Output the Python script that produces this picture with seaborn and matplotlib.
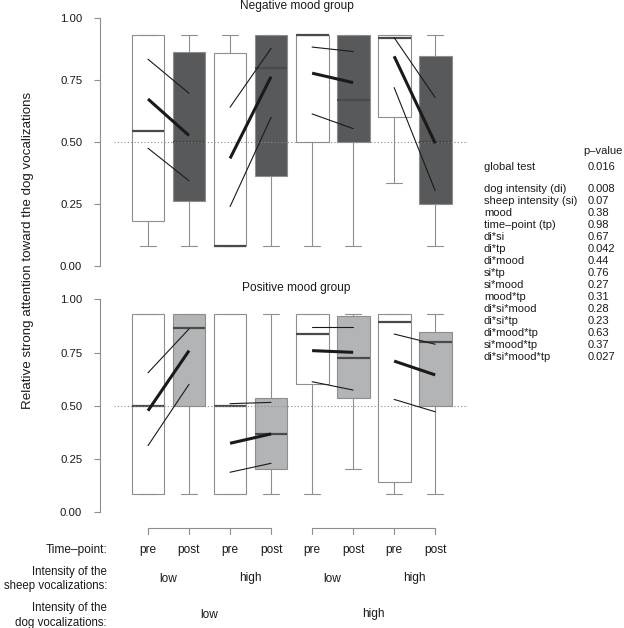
import seaborn as sns
import matplotlib.pyplot as plt
import matplotlib.transforms as mtransforms
import numpy as np
import pandas as pd

# box order: dog low/sheep low (pre, post), dog low/sheep high, dog high/sheep low, dog high/sheep high
time_points = ["pre", "post", "pre", "post", "pre", "post", "pre", "post"]
sheep_levels = ["low", "high", "low", "high"]
dog_levels = ["low", "high"]

# five-number summaries (whisker low, q1, median, q3, whisker high)
neg_lo = [0.083, 0.083, 0.083, 0.083, 0.083, 0.083, 0.335, 0.083]
neg_q1 = [0.185, 0.265, 0.083, 0.365, 0.500, 0.500, 0.600, 0.252]
neg_med = [0.547, 0.500, 0.083, 0.800, 0.933, 0.670, 0.921, 0.500]
neg_q3 = [0.933, 0.865, 0.858, 0.933, 0.933, 0.933, 0.933, 0.846]
neg_hi = [0.933, 0.933, 0.933, 0.933, 0.933, 0.933, 0.933, 0.933]

pos_lo = [0.084, 0.084, 0.084, 0.084, 0.084, 0.202, 0.084, 0.084]
pos_q1 = [0.084, 0.500, 0.084, 0.202, 0.601, 0.535, 0.144, 0.500]
pos_med = [0.500, 0.865, 0.500, 0.366, 0.836, 0.726, 0.895, 0.801]
pos_q3 = [0.932, 0.932, 0.932, 0.538, 0.932, 0.923, 0.932, 0.848]
pos_hi = [0.932, 0.932, 0.932, 0.932, 0.932, 0.932, 0.932, 0.932]

# estimated means (thick) and interval bounds (thin), pre -> post for each pair
neg_mean_pre = [0.674, 0.435, 0.778, 0.846]
neg_mean_post = [0.527, 0.764, 0.740, 0.496]
neg_up_pre = [0.834, 0.641, 0.883, 0.921]
neg_up_post = [0.697, 0.878, 0.865, 0.680]
neg_low_pre = [0.476, 0.241, 0.614, 0.720]
neg_low_post = [0.345, 0.600, 0.555, 0.305]

pos_mean_pre = [0.477, 0.324, 0.759, 0.710]
pos_mean_post = [0.759, 0.368, 0.751, 0.645]
pos_up_pre = [0.655, 0.510, 0.868, 0.837]
pos_up_post = [0.861, 0.516, 0.868, 0.789]
pos_low_pre = [0.313, 0.188, 0.613, 0.530]
pos_low_post = [0.601, 0.230, 0.574, 0.472]

effects = ["global test", "dog intensity (di)", "sheep intensity (si)", "mood",
           "time\u2013point (tp)", "di*si", "di*tp", "di*mood", "si*tp", "si*mood",
           "mood*tp", "di*si*mood", "di*si*tp", "di*mood*tp", "si*mood*tp",
           "di*si*mood*tp"]
p_values = ["0.016", "0.008", "0.07", "0.38", "0.98", "0.67", "0.042", "0.44",
            "0.76", "0.27", "0.31", "0.28", "0.23", "0.63", "0.37", "0.027"]


def make_df(lo, q1, med, q3, hi):
    rows = []
    for i in range(len(lo)):
        for v in (lo[i], q1[i], med[i], q3[i], hi[i]):
            rows.append({"box": i, "value": v})
    return pd.DataFrame(rows)


sns.set_style("white")
plt.rcParams['font.family'] = ['Liberation Sans', 'DejaVu Sans']

W, H = 624, 628
fig = plt.figure(figsize=(W / 100, H / 100), dpi=100)

edge = "#8e8e8e"
txt = "#1a1a1a"


def px_axes(left, top, right, bottom):
    return fig.add_axes([left / W, 1 - bottom / H, (right - left) / W, (bottom - top) / H])


def draw_panel(ax, df, post_color, m_pre, m_post, u_pre, u_post, l_pre, l_post):
    pal = {i: ("white" if time_points[i] == "pre" else post_color) for i in range(8)}
    sns.boxplot(data=df, x="box", y="value", hue="box", palette=pal, legend=False,
                saturation=1, width=0.8, whis=(0, 100), linecolor=edge, linewidth=0.8,
                medianprops=dict(color="#4a4a4a", linewidth=1.6), ax=ax)
    ax.hlines(0.5, -0.83, 7.8, colors="#8a8a8a", linestyles=(0, (1, 2)), linewidth=0.8, zorder=5)
    for k in range(4):
        xs = [2 * k, 2 * k + 1]
        ax.plot(xs, [u_pre[k], u_post[k]], color=txt, lw=0.8, zorder=6)
        ax.plot(xs, [l_pre[k], l_post[k]], color=txt, lw=0.8, zorder=6)
        ax.plot(xs, [m_pre[k], m_post[k]], color=txt, lw=2.2, zorder=7, solid_capstyle="butt")
    ax.set_xlim(-1.17, 7.8)
    ax.set_ylim(0, 1)
    ax.set_xlabel("")
    ax.set_ylabel("")
    ax.set_xticks([])
    ax.set_yticks([0, 0.25, 0.5, 0.75, 1.0])
    ax.set_yticklabels(["0.00", "0.25", "0.50", "0.75", "1.00"])
    for s in ["top", "right", "bottom"]:
        ax.spines[s].set_visible(False)
    ax.spines["left"].set_color(edge)
    ax.spines["left"].set_linewidth(0.8)
    ax.tick_params(axis="y", left=True, length=4.3, width=0.8, color=edge, pad=8.5,
                   labelsize=8.2, labelcolor=txt)
    ax.patch.set_alpha(0)


ax_top = px_axes(100, 18, 468, 266.5)
draw_panel(ax_top, make_df(neg_lo, neg_q1, neg_med, neg_q3, neg_hi), "#58595b",
           neg_mean_pre, neg_mean_post, neg_up_pre, neg_up_post, neg_low_pre, neg_low_post)

ax_bot = px_axes(100, 299.3, 468, 512.3)
draw_panel(ax_bot, make_df(pos_lo, pos_q1, pos_med, pos_q3, pos_hi), "#b3b4b6",
           pos_mean_pre, pos_mean_post, pos_up_pre, pos_up_post, pos_low_pre, pos_low_post)

fig.text(297 / W, 1 - 6 / H, "Negative mood group", ha="center", va="center", fontsize=8.6, color=txt)
fig.text(296 / W, 1 - 288.5 / H, "Positive mood group", ha="center", va="center", fontsize=8.6, color=txt)

fig.text(28 / W, 1 - 250 / H, "Relative strong attention toward the dog vocalizations",
         rotation=90, ha="center", va="center", fontsize=9.6, color=txt)

# bracket axis under the lower panel
trans = mtransforms.blended_transform_factory(ax_bot.transData, fig.transFigure)
y_line = 1 - 527.5 / H
y_tick = 1 - 534 / H
for g in range(2):
    xs = list(range(4 * g, 4 * g + 4))
    ax_bot.plot([xs[0], xs[-1]], [y_line, y_line], color=edge, lw=0.8, transform=trans, clip_on=False)
    for x in xs:
        ax_bot.plot([x, x], [y_line, y_tick], color=edge, lw=0.8, transform=trans, clip_on=False)

lab_size = 8.6
for i, t in enumerate(time_points):
    ax_bot.text(i, 1 - 550 / H, t, transform=trans, ha="center", va="center", fontsize=lab_size, color=txt)
for k, s in enumerate(sheep_levels):
    ax_bot.text(2 * k + 0.5, 1 - 578.5 / H, s, transform=trans, ha="center", va="center",
                fontsize=lab_size, color=txt)
for k, d in enumerate(dog_levels):
    ax_bot.text(4 * k + 1.5, 1 - 614.5 / H, d, transform=trans, ha="center", va="center",
                fontsize=lab_size, color=txt)

fig.text(107 / W, 1 - 550 / H, "Time\u2013point:", ha="right", va="center", fontsize=lab_size, color=txt)
fig.text(107 / W, 1 - 579 / H, "Intensity of the\nsheep vocalizations:", ha="right", va="center",
         fontsize=8.3, color=txt, linespacing=1.3)
fig.text(107 / W, 1 - 615.5 / H, "Intensity of the\ndog vocalizations:", ha="right", va="center",
         fontsize=8.3, color=txt, linespacing=1.3)

# p-value table
tab_size = 8.0
fig.text(583 / W, 1 - 151.5 / H, "p\u2013value", ha="left", va="center", fontsize=tab_size, color=txt)
row_y = [167.5] + [189.5 + 12.0 * i for i in range(len(effects) - 1)]
for name, p, y in zip(effects, p_values, row_y):
    fig.text(484 / W, 1 - y / H, name, ha="left", va="center", fontsize=tab_size, color=txt)
    fig.text(587.5 / W, 1 - y / H, p, ha="left", va="center", fontsize=tab_size, color=txt)

fig.savefig("out.png", dpi=100)
